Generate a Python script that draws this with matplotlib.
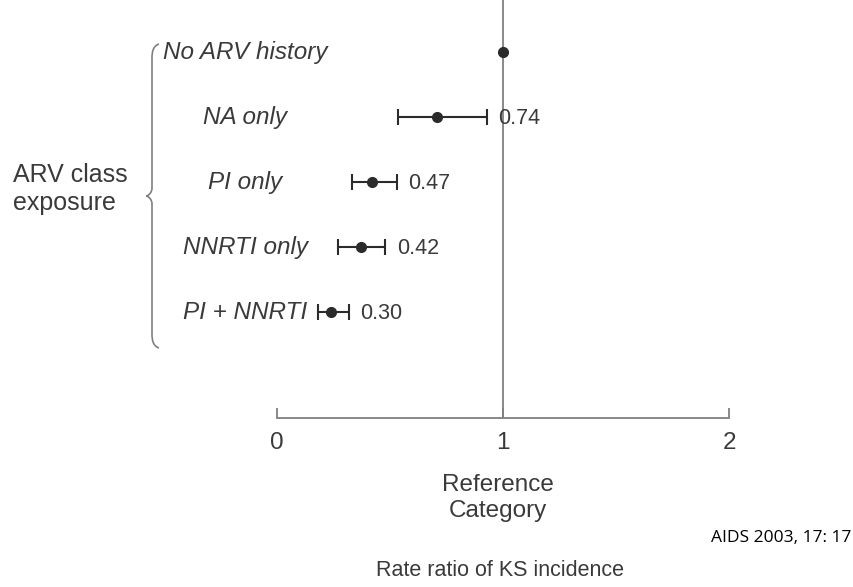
import matplotlib.pyplot as plt
from matplotlib.path import Path
from matplotlib.patches import PathPatch

# data
groups = ['No ARV history', 'NA only', 'PI only', 'NNRTI only', 'PI + NNRTI']
rate_ratio = [1.0, 0.71, 0.42, 0.37, 0.24]
ci_low = [1.0, 0.535, 0.33, 0.27, 0.18]
ci_high = [1.0, 0.93, 0.53, 0.48, 0.32]
value_labels = ['', '0.74', '0.47', '0.42', '0.30']
x_ticks = [0, 1, 2]

W, H = 854, 587
ink = '#2b2b2b'
grey = '#808080'
txt = '#3a3a3a'
plt.rcParams['font.family'] = ['Liberation Sans', 'DejaVu Sans']

fig = plt.figure(figsize=(W / 100, H / 100), dpi=100)

# main axes: x from 0 (px 277) to 2 (px 729), bottom at px 418
ax = fig.add_axes([277 / W, (H - 418) / H, 452 / W, 418 / H])
ax.set_xlim(0, 2)
ax.set_ylim(5.63, -0.8)
ax.patch.set_alpha(0)
for s in ['top', 'right', 'left']:
    ax.spines[s].set_visible(False)
ax.spines['bottom'].set_color(grey)
ax.spines['bottom'].set_linewidth(1.3)
ax.set_yticks([])
ax.set_xticks(x_ticks)
ax.set_xticklabels([str(t) for t in x_ticks])
ax.tick_params(axis='x', direction='in', length=7, width=1.3, color=grey,
               labelsize=17.5, labelcolor=txt, pad=10)

ax.axvline(1, color=grey, lw=1.3, zorder=1)

rows = list(range(len(groups)))
for i in rows:
    lo = rate_ratio[i] - ci_low[i]
    hi = ci_high[i] - rate_ratio[i]
    if lo > 0 or hi > 0:
        ax.errorbar(rate_ratio[i], i, xerr=[[lo], [hi]], fmt='o', color=ink,
                    ms=7, lw=1.5, capsize=6, capthick=1.5, zorder=3)
    else:
        ax.plot(rate_ratio[i], i, 'o', color=ink, ms=7, zorder=3)
    if value_labels[i]:
        ax.text(ci_high[i] + 0.05, i + 0.02, value_labels[i], va='center',
                ha='left', fontsize=15.5, color=txt)
    ax.text(-0.14, i, groups[i], va='center', ha='center', fontsize=17.5,
            style='italic', color=txt, clip_on=False)

# overlay in pixel coordinates for the annotations
ov = fig.add_axes([0, 0, 1, 1])
ov.set_xlim(0, W)
ov.set_ylim(H, 0)
ov.axis('off')
ov.patch.set_alpha(0)

# curly brace
bx, top, mid, bot = 152, 44, 196, 348
verts = [(159, top), (153, top + 2), (bx, top + 8), (bx, top + 14),
         (bx, mid - 8),
         (bx, mid - 3), (148, mid), (146, mid),
         (148, mid), (bx, mid + 3), (bx, mid + 8),
         (bx, bot - 14),
         (bx, bot - 8), (153, bot - 2), (159, bot)]
codes = [Path.MOVETO, Path.CURVE4, Path.CURVE4, Path.CURVE4,
         Path.LINETO,
         Path.CURVE4, Path.CURVE4, Path.CURVE4,
         Path.CURVE4, Path.CURVE4, Path.CURVE4,
         Path.LINETO,
         Path.CURVE4, Path.CURVE4, Path.CURVE4]
ov.add_patch(PathPatch(Path(verts, codes), fill=False, ec=grey, lw=1.2))

ov.text(13, 189, 'ARV class\nexposure', ha='left', va='center', fontsize=18,
        color=txt, linespacing=1.2)
ov.text(498, 498, 'Reference\nCategory', ha='center', va='center',
        fontsize=17.5, color=txt, linespacing=1.25)
ov.text(500, 571, 'Rate ratio of KS incidence', ha='center', va='center',
        fontsize=15.5, color=txt)
ov.text(851, 538, 'AIDS 2003, 17: 17', ha='right', va='center', fontsize=12.5,
        color='black', family=['Open Sans', 'DejaVu Sans'])

fig.savefig('out.png', dpi=100)
